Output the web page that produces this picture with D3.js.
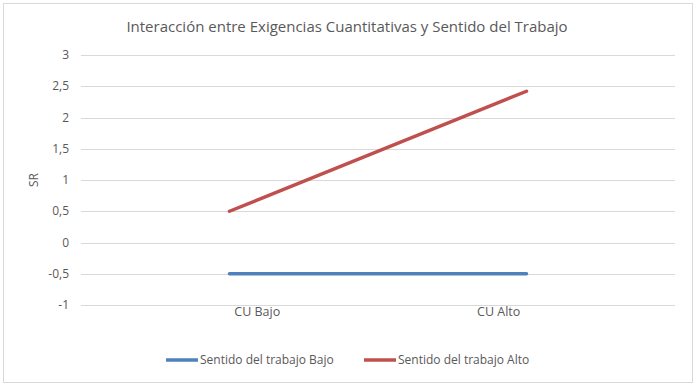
<!DOCTYPE html>
<html>
<head>
<meta charset="utf-8">
<script src="https://cdn.jsdelivr.net/npm/d3@7"></script>
<style>
  body { margin: 0; background: #fff; }
  text { font-family: "Open Sans", "Noto Sans", sans-serif; fill: #595959; }
</style>
</head>
<body>
<svg id="drawing_region"></svg>
<script>
const categories = ['CU Bajo', 'CU Alto'];
const seriesNames = ['Sentido del trabajo Bajo', 'Sentido del trabajo Alto'];
const valuesBajo = [-0.5, -0.5];
const valuesAlto = [0.5, 2.42];
const yTicks = [-1, -0.5, 0, 0.5, 1, 1.5, 2, 2.5, 3];
const colors = ['#4f81bd', '#c0504d'];

const series = [
    { name: seriesNames[0], values: valuesBajo, color: colors[0] },
    { name: seriesNames[1], values: valuesAlto, color: colors[1] }
];

const width = 698, height = 387;
const margin = { top: 55, right: 23, bottom: 82, left: 81 };
const plotW = width - margin.left - margin.right;
const plotH = height - margin.top - margin.bottom;

const svg = d3.select('#drawing_region')
    .attr('width', width)
    .attr('height', height);

// chart frame
svg.append('rect')
    .attr('x', 3.5).attr('y', 3.5)
    .attr('width', 689).attr('height', 379)
    .attr('fill', '#fff')
    .attr('stroke', '#d9d9d9');

svg.append('text')
    .attr('x', 347)
    .attr('y', 32)
    .attr('text-anchor', 'middle')
    .attr('font-size', '15px')
    .text('Interacción entre Exigencias Cuantitativas y Sentido del Trabajo');

const chart = svg.append('g')
    .attr('transform', `translate(${margin.left}, ${margin.top})`);

const x = d3.scalePoint()
    .domain(categories)
    .range([0, plotW])
    .padding(0.5);

const xLabel = d3.scalePoint()
    .domain(categories)
    .range([0, plotW])
    .padding(0.73);

const y = d3.scaleLinear()
    .domain([-1, 3])
    .range([plotH, 0]);

const fmt = v => String(v).replace('.', ',');

// gridlines
chart.append('g')
    .selectAll('line')
    .data(yTicks)
    .join('line')
    .attr('x1', 0).attr('x2', plotW)
    .attr('y1', d => Math.round(y(d)) + 0.5)
    .attr('y2', d => Math.round(y(d)) + 0.5)
    .attr('stroke', '#d9d9d9')
    .attr('stroke-width', 1);

// y labels
chart.append('g')
    .selectAll('text')
    .data(yTicks)
    .join('text')
    .attr('x', -12)
    .attr('y', d => y(d))
    .attr('dy', '0.35em')
    .attr('text-anchor', 'end')
    .attr('font-size', '12px')
    .text(fmt);

// x labels
chart.append('g')
    .selectAll('text')
    .data(categories)
    .join('text')
    .attr('x', d => xLabel(d))
    .attr('y', plotH + 7)
    .attr('dy', '0.35em')
    .attr('text-anchor', 'middle')
    .attr('font-size', '12.5px')
    .text(d => d);

// y axis title
svg.append('text')
    .attr('transform', `translate(38, ${margin.top + plotH / 2}) rotate(-90)`)
    .attr('text-anchor', 'middle')
    .attr('font-size', '12px')
    .text('SR');

const line = d3.line()
    .x((d, i) => x(categories[i]))
    .y(d => y(d));

chart.append('g')
    .selectAll('path')
    .data(series)
    .join('path')
    .attr('d', d => line(d.values))
    .attr('fill', 'none')
    .attr('stroke', d => d.color)
    .attr('stroke-width', 3.5)
    .attr('stroke-linecap', 'round');

// legend
const legendX = [166, 364];
const legend = svg.append('g')
    .selectAll('g')
    .data(series)
    .join('g')
    .attr('transform', (d, i) => `translate(${legendX[i]}, 360)`);

legend.append('line')
    .attr('x1', 0).attr('x2', 32)
    .attr('y1', 0).attr('y2', 0)
    .attr('stroke', d => d.color)
    .attr('stroke-width', 3.5);

legend.append('text')
    .attr('x', 34)
    .attr('y', 0)
    .attr('dy', '0.35em')
    .attr('font-size', '12px')
    .text(d => d.name);
</script>
</body>
</html>
